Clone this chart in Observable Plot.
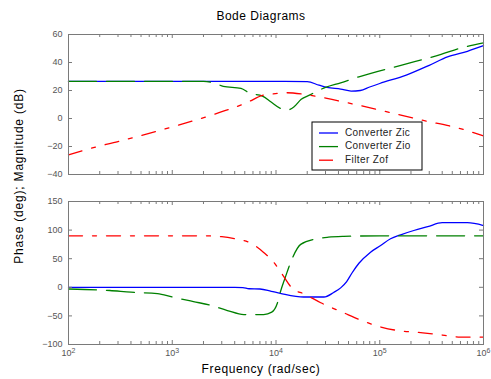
<!DOCTYPE html>
<html><head><meta charset="utf-8">
<script src="https://cdn.jsdelivr.net/npm/d3@7"></script>
<script src="https://cdn.jsdelivr.net/npm/@observablehq/plot@0.6"></script>
<style>
body{margin:0;background:#fff;}
#wrap{position:relative;width:491px;height:379px;font-family:"Liberation Sans",Arial,sans-serif;}
#wrap svg{position:absolute;left:0;}
</style></head><body><div id="wrap"></div>
<script>
// ---- data (frequency in rad/sec) ----
const zicMagF  = [1e2, 1e3, 1e4, 2e4, 2.6e4, 3.1e4, 4.2e4, 5.3e4, 6.5e4, 8e4, 1e5, 1.8e5, 3e5, 4.5e5, 7e5, 1e6];
const zicMagDb = [26.5, 26.5, 26.5, 26.3, 23.8, 22.2, 21, 19.6, 20, 22.5, 25, 31, 38, 44, 48, 52];

const zioMagF  = [1e2, 2e3, 2.5e3, 3.1e3, 4.6e3, 5.6e3, 7.4e3, 8.9e3, 1.1e4, 1.3e4, 1.5e4, 1.75e4, 2.1e4, 3e4, 4.2e4, 6.3e4, 1.6e5, 3.9e5, 6e5, 1e6];
const zioMagDb = [26.5, 26.5, 25.5, 23, 21.5, 18, 16, 12, 7.3, 6.1, 8.5, 13.7, 16.7, 22.2, 25.5, 29.8, 38, 45.8, 50.3, 54];

const zofMagF  = [1e2, 1.7e2, 3e2, 1e3, 2.3e3, 5.4e3, 7.4e3, 8.9e3, 1.25e4, 1.8e4, 2.1e4, 3.1e4, 4.4e4, 1e5, 2.5e5, 6.5e5, 1e6];
const zofMagDb = [-26, -21, -16.5, -6, 2, 11.8, 16.5, 17.4, 18.4, 17.4, 16.7, 14.4, 12, 6, -1, -8, -12.5];

const zicPhF   = [1e2, 4e3, 4.8e3, 5.5e3, 7e3, 9e3, 1.1e4, 1.85e4, 2.9e4, 3.6e4, 4.2e4, 4.8e4, 5.4e4, 6.3e4, 8.1e4, 1.02e5, 1.27e5, 1.59e5, 2.13e5, 2.9e5, 4e5, 7e5, 1e6];
const zicPhDeg = [0, 0, -0.5, -2.5, -3, -7, -10.5, -17, -17, -9, -1, 10, 25, 42, 61, 73, 84.8, 91.8, 99.3, 106, 113, 113, 108];

const zioPhF   = [1e2, 2.5e2, 4e2, 7.2e2, 1e3, 1.6e3, 2.3e3, 3.4e3, 4.9e3, 7.6e3, 9.1e3, 1.03e4, 1.1e4, 1.23e4, 1.45e4, 1.73e4, 2.5e4, 3.2e4, 4.5e4, 1e5, 1e6];
const zioPhDeg = [-3, -5.6, -8.6, -11, -17, -25, -31, -40.6, -47.6, -47.6, -43.5, -28, -8.6, 17.6, 52.6, 75, 85, 87.6, 89, 90, 90];

const zofPhF   = [1e2, 2e3, 3e3, 4e3, 5.6e3, 7.6e3, 9.5e3, 1.17e4, 1.45e4, 1.86e4, 2.7e4, 4.5e4, 6.3e4, 1.05e5, 1.48e5, 2.6e5, 3.5e5, 6e5, 1e6];
const zofPhDeg = [90, 90, 88.5, 85, 78, 61, 44, 20.6, -2.6, -11.4, -27, -44.6, -56, -70, -75.5, -79.5, -82, -87, -87];

const seriesNames = ["Converter Zic", "Converter Zio", "Filter Zof"];
const magTicks = [-40, -20, 0, 20, 40, 60];
const phaseTicks = [-100, -50, 0, 50, 100, 150];
const decadeTicks = [1e2, 1e3, 1e4, 1e5, 1e6];
const titleText = "Bode Diagrams";
const yLabelText = "Phase (deg); Magnitude (dB)";
const xLabelText = "Frequency (rad/sec)";

// ---- helpers ----
const zip = (f, v) => f.map((x, i) => ({f: x, v: v[i]}));
const minorTicks = [];
for (const d of [1e2, 1e3, 1e4, 1e5]) for (let k = 2; k <= 9; k++) minorTicks.push(d * k);

const styles = [
  {stroke: "#0000ff"},
  {stroke: "#008000", strokeDasharray: "28,10"},
  {stroke: "#ff0000", strokeDasharray: "14,10,4,10"}
];
const frameColor = "#7a7a7a";
const font = '"Liberation Sans", Arial, sans-serif';

function panel(yDomain, yTicks, series, opts) {
  const [y0, y1] = yDomain;
  const marks = [];
  series.forEach((s, i) => marks.push(Plot.line(s, {x: "f", y: "v", strokeWidth: 1.3, curve: "monotone-x", ...styles[i]})));
  marks.push(
    Plot.frame({stroke: frameColor}),
    Plot.ruleX(decadeTicks, {x: d => d, y1: y0, y2: y0, insetBottom: 4, stroke: frameColor}),
    Plot.ruleX(decadeTicks, {x: d => d, y1: y1, y2: y1, insetTop: 4, stroke: frameColor}),
    Plot.ruleX(minorTicks, {x: d => d, y1: y0, y2: y0, insetBottom: 3, stroke: frameColor}),
    Plot.ruleX(minorTicks, {x: d => d, y1: y1, y2: y1, insetTop: 3, stroke: frameColor}),
    Plot.ruleY(yTicks, {y: d => d, x1: 1e2, x2: 1e2, insetLeft: 4, stroke: frameColor}),
    Plot.ruleY(yTicks, {y: d => d, x1: 1e6, x2: 1e6, insetRight: 4, stroke: frameColor}),
    Plot.axisY(yTicks, {anchor: "left", tickSize: 0, tickPadding: 6, label: null, fill: "#555", fontSize: 9})
  );
  if (opts.xLabels) marks.push(Plot.axisX(decadeTicks, {anchor: "bottom", tickSize: 0, tickPadding: 5, label: null, fill: "#555", fontSize: 9, tickFormat: d => "10^" + Math.round(Math.log10(d))}));
  return Plot.plot({
    width: 491, height: opts.height,
    marginTop: opts.mt, marginBottom: opts.mb, marginLeft: 68, marginRight: 8,
    x: {type: "log", domain: [1e2, 1e6], axis: null},
    y: {domain: yDomain, axis: null},
    style: {fontFamily: font, background: "transparent", overflow: "visible"},
    marks
  });
}

const wrap = document.getElementById("wrap");
const topSvg = panel([-40, 60], magTicks, [zip(zicMagF, zicMagDb), zip(zioMagF, zioMagDb), zip(zofMagF, zofMagDb)], {height: 190, mt: 34, mb: 16, xLabels: false});
topSvg.style.top = "0px";
const botSvg = panel([-100, 150], phaseTicks, [zip(zicPhF, zicPhDeg), zip(zioPhF, zioPhDeg), zip(zofPhF, zofPhDeg)], {height: 189, mt: 11, mb: 35, xLabels: true});
botSvg.style.top = "190px";
wrap.appendChild(topSvg);
wrap.appendChild(botSvg);

// superscript exponents on x tick labels
d3.select(botSvg).selectAll('g[aria-label="x-axis tick label"] text').each(function() {
  const t = this.textContent;
  const [b, e] = t.split("^");
  const sel = d3.select(this);
  sel.text(null);
  sel.append("tspan").text(b);
  sel.append("tspan").attr("dy", "-0.45em").attr("font-size", 7).text(e);
});

// overlay: title, axis labels, legend
const ov = d3.select(wrap).append("svg").attr("width", 491).attr("height", 379).style("top", "0px")
  .attr("font-family", font);
ov.append("text").attr("x", 261).attr("y", 16.5).attr("text-anchor", "middle").attr("dominant-baseline", "middle")
  .attr("font-size", 12).attr("letter-spacing", 0.5).attr("fill", "#000").text(titleText);
ov.append("text").attr("transform", "translate(20,176) rotate(-90)").attr("text-anchor", "middle").attr("dominant-baseline", "middle")
  .attr("font-size", 12).attr("letter-spacing", 0.8).attr("fill", "#000").text(yLabelText);
ov.append("text").attr("x", 261).attr("y", 370).attr("text-anchor", "middle").attr("dominant-baseline", "middle")
  .attr("font-size", 12).attr("letter-spacing", 0.6).attr("fill", "#000").text(xLabelText);

const lg = ov.append("g");
lg.append("rect").attr("x", 312).attr("y", 122).attr("width", 110).attr("height", 48)
  .attr("fill", "#fff").attr("stroke", "#000").attr("stroke-width", 1);
seriesNames.forEach((name, i) => {
  const y = 133 + i * 13.6;
  lg.append("line").attr("x1", 319).attr("x2", 338).attr("y1", y).attr("y2", y)
    .attr("stroke", styles[i].stroke).attr("stroke-width", 1.3)
    .attr("stroke-dasharray", styles[i].strokeDasharray || null);
  lg.append("text").attr("x", 345).attr("y", y).attr("dominant-baseline", "middle")
    .attr("font-size", 10).attr("letter-spacing", 0.4).attr("fill", "#222").text(name);
});
</script>
</body></html>
